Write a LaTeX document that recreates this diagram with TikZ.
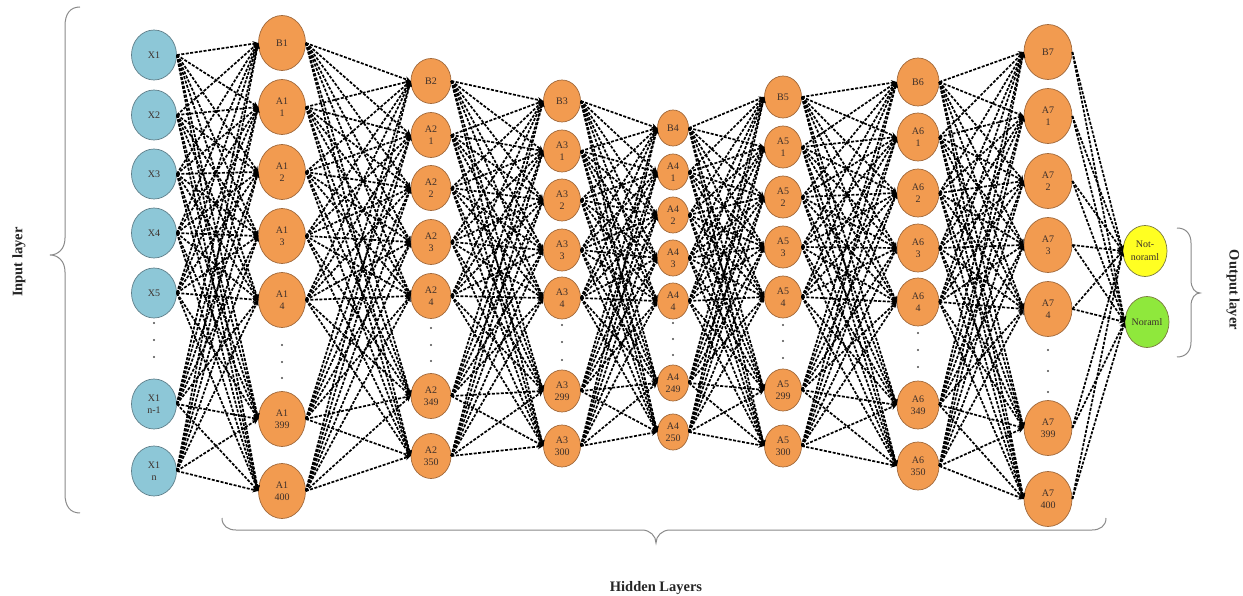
\documentclass[tikz,border=0pt]{standalone}
\usepackage{fontspec}
\setmainfont{Liberation Serif}
\usetikzlibrary{shapes.geometric,arrows.meta}

\definecolor{inblue}{HTML}{8DC7D7}
\definecolor{inrim}{HTML}{5F7F8A}
\definecolor{hidorange}{HTML}{F29B50}
\definecolor{hidrim}{HTML}{A0683A}
\definecolor{outyellow}{HTML}{FFFF22}
\definecolor{outgreen}{HTML}{8FE83C}
\definecolor{outrim}{HTML}{7A7A40}
\definecolor{bracegray}{HTML}{8A8A8A}
\definecolor{nodetext}{HTML}{3C2F2A}

\tikzset{
  neuron/.style={ellipse, line width=0.7pt, inner sep=0pt, align=center,
    font=\fontsize{10}{12.5}\selectfont, text=nodetext},
  innode/.style={neuron, fill=inblue, draw=inrim, minimum width=45pt, minimum height=50pt},
  hidnode/.style={neuron, fill=hidorange, draw=hidrim},
  hsize/.style 2 args={minimum width=#1pt, minimum height=#2pt},
  outnode/.style={neuron, draw=outrim, minimum width=44pt, minimum height=51pt},
  link/.style={draw=black, line width=1.7pt, dash pattern=on 3pt off 1.5pt,
    -{Stealth[length=5.5pt,width=5.5pt]}},
  dotcol/.style={fill=black!70},
  bracepath/.style={draw=bracegray, line width=1pt},
  layerlabel/.style={font=\bfseries\fontsize{14.5}{16}\selectfont, text=black!85}
}

\begin{document}
\begin{tikzpicture}[x=1pt,y=-1pt]
\useasboundingbox (0,0) rectangle (1243,596);
\fill[white] (0,0) rectangle (1243,596);

% input layer
\foreach \y/\t [count=\i] in {55/X1, 115/X2, 174/X3, 233/X4, 293/X5, 404/{X1\\n-1}, 471/{X1\\n}}
  \node[innode] (n0-\i) at (154,\y) {\t};
\foreach \y in {323,340,357} \fill[dotcol] (154,\y) circle (1.1pt);

% hidden layer 1
\foreach \y/\t [count=\i] in {43/B1, 107/{A1\\1}, 172/{A1\\2}, 236/{A1\\3}, 300/{A1\\4}, 419/{A1\\399}, 491/{A1\\400}}
  \node[hidnode, hsize={47}{55}] (n1-\i) at (282,\y) {\t};
\foreach \y in {345,362,378} \fill[dotcol] (282,\y) circle (1.1pt);

% hidden layer 2
\foreach \y/\t [count=\i] in {81/B2, 135/{A2\\1}, 188/{A2\\2}, 242/{A2\\3}, 296/{A2\\4}, 396/{A2\\349}, 456/{A2\\350}}
  \node[hidnode, hsize={40}{45}] (n2-\i) at (431,\y) {\t};
\foreach \y in {328,345,361} \fill[dotcol] (431,\y) circle (1.1pt);

% hidden layer 3
\foreach \y/\t [count=\i] in {101/B3, 151/{A3\\1}, 200/{A3\\2}, 250/{A3\\3}, 298/{A3\\4}, 391/{A3\\299}, 446/{A3\\300}}
  \node[hidnode, hsize={37}{42}] (n3-\i) at (562,\y) {\t};
\foreach \y in {325,342,360} \fill[dotcol] (562,\y) circle (1.1pt);

% hidden layer 4
\foreach \y/\t [count=\i] in {128/B4, 172/{A4\\1}, 215/{A4\\2}, 258/{A4\\3}, 301/{A4\\4}, 383/{A4\\249}, 432/{A4\\250}}
  \node[hidnode, hsize={31}{36}] (n4-\i) at (673,\y) {\t};
\foreach \y in {323,339,355} \fill[dotcol] (673,\y) circle (1.1pt);

% hidden layer 5
\foreach \y/\t [count=\i] in {97/B5, 147/{A5\\1}, 197/{A5\\2}, 247/{A5\\3}, 297/{A5\\4}, 390/{A5\\299}, 446/{A5\\300}}
  \node[hidnode, hsize={37}{42}] (n5-\i) at (783,\y) {\t};
\foreach \y in {325,341,358} \fill[dotcol] (783,\y) circle (1.1pt);

% hidden layer 6
\foreach \y/\t [count=\i] in {82/B6, 137/{A6\\1}, 193/{A6\\2}, 248/{A6\\3}, 302/{A6\\4}, 405/{A6\\349}, 466/{A6\\350}}
  \node[hidnode, hsize={42}{48}] (n6-\i) at (918,\y) {\t};
\foreach \y in {333,350,367} \fill[dotcol] (918,\y) circle (1.1pt);

% hidden layer 7
\foreach \y/\t [count=\i] in {52/B7, 116/{A7\\1}, 181/{A7\\2}, 245/{A7\\3}, 309/{A7\\4}, 428/{A7\\399}, 499/{A7\\400}}
  \node[hidnode, hsize={48}{55}] (n7-\i) at (1048,\y) {\t};
\foreach \y in {350,371,392} \fill[dotcol] (1048,\y) circle (1.1pt);

% output layer
\node[outnode, fill=outyellow] (out-1) at (1145,251) {Not-\\noraml};
\node[outnode, fill=outgreen] (out-2) at (1147,322) {Noraml};

% dense dashed connections between neighbouring layers
\foreach \l [evaluate=\l as \m using int(\l+1)] in {0,...,6}
  \foreach \a in {1,...,7}
    \foreach \b in {1,...,7}
      \draw[link] (n\l-\a.east) -- (n\m-\b.west);
\foreach \a in {1,...,7}
  \foreach \b in {1,2}
    \draw[link] (n7-\a.east) -- (out-\b.west);

% braces
\draw[bracepath] (80,7) .. controls (70,7) and (65,14) .. (65,26) -- (65,238)
  .. controls (65,249) and (58,255) .. (50,255)
  .. controls (58,255) and (65,261) .. (65,272) -- (65,494)
  .. controls (65,506) and (70,513) .. (80,513);
\draw[bracepath] (222,518) .. controls (222,526) and (228,530) .. (236,530) -- (642,530)
  .. controls (650,530) and (656,536) .. (656,543)
  .. controls (656,536) and (662,530) .. (670,530) -- (1092,530)
  .. controls (1100,530) and (1106,526) .. (1106,518);
\draw[bracepath] (1177,228) .. controls (1186,228) and (1191,234) .. (1191,243) -- (1191,280)
  .. controls (1191,288) and (1195,293) .. (1200,293)
  .. controls (1195,293) and (1191,298) .. (1191,306) -- (1191,342)
  .. controls (1191,351) and (1186,357) .. (1177,357);

% layer captions
\node[layerlabel, rotate=90] (inlbl) at (19,262) {Input layer};
\node[layerlabel, rotate=-90] (outlbl) at (1233,290) {Output layer};
\node[layerlabel, anchor=base] (hidlbl) at (656,591) {Hidden Layers};
\end{tikzpicture}
\end{document}
